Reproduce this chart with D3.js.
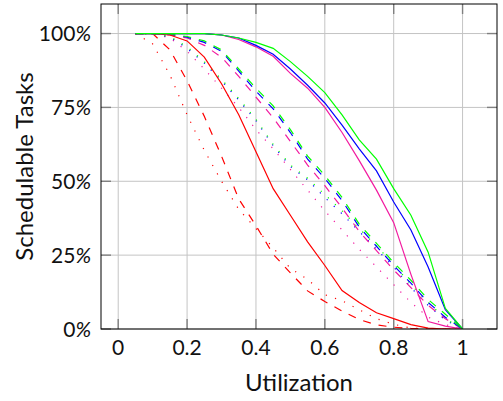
<!DOCTYPE html>
<html>
<head>
<meta charset="utf-8">
<script src="https://cdn.jsdelivr.net/npm/d3@7"></script>
<style>
  body { margin: 0; background: #fff; }
  text { font-family: Lato, "Noto Sans", sans-serif; fill: #111; }
</style>
</head>
<body>
<div id="chart"></div>
<script>
// utilization steps (x)
const utilization = [0.05, 0.1, 0.15, 0.2, 0.25, 0.3, 0.35, 0.4, 0.45, 0.5,
  0.55, 0.6, 0.65, 0.7, 0.75, 0.8, 0.85, 0.9, 0.95, 1.0];

// schedulable tasks in %
const greenSolid = [100, 100, 100, 100, 100, 99.5, 98.5, 97, 95, 90.5, 85.5, 80, 72.5, 64, 57.5, 47.5, 38.5, 26, 7, 0];
const blueSolid = [100, 100, 100, 100, 100, 99.5, 98.5, 96, 93, 88, 82.5, 76.5, 69, 61, 53.5, 43, 33.5, 21, 6.5, 0];
const magentaSolid = [100, 100, 100, 100, 100, 99.5, 98, 95.5, 92.3, 86.5, 81.5, 75, 66.5, 57, 47, 36, 18.5, 2.5, 1, 0];
const redSolid = [100, 100, 99.5, 97.5, 92, 83, 72.5, 60, 47.5, 38.5, 29.5, 21.5, 13, 9, 5.5, 3.5, 1.5, 0.3, 0, 0];

const greenDashed = [100, 100, 99.8, 99, 97.5, 94.5, 88, 81.5, 75.5, 67.5, 58.5, 52, 44.5, 35.5, 29, 22.5, 16.5, 10, 5, 0];
const blueDashed = [100, 100, 99.7, 98.8, 97, 94, 87.3, 80.5, 74.5, 66.5, 57.5, 51, 43.5, 34.5, 28, 21.5, 15.5, 9, 4, 0];
const magentaDashed = [100, 100, 99.5, 98.5, 96, 92, 85.5, 78.5, 71.5, 63.5, 55.5, 48.5, 41, 33, 26.5, 20, 14, 8, 3.5, 0];
const redDashed = [100, 100, 94.5, 84, 72, 58.5, 44, 35, 25.3, 19, 12.9, 9.3, 6.1, 3.2, 1.4, 0.6, 0.2, 0, 0, 0];

const greenDotted = [100, 100, 99, 95.5, 90.5, 84.5, 78, 71, 62.5, 55.5, 51, 45.5, 40, 34, 28, 22, 15, 9, 3.5, 0];
const blueDotted = [100, 100, 98.8, 95, 90, 84, 77.5, 70.5, 62, 55, 50.5, 44.5, 39, 33, 27, 21, 14, 8, 3, 0];
const magentaDotted = [100, 100, 98.5, 94, 88, 81.5, 75, 67.5, 61, 54, 47, 40, 33.5, 27, 21, 15, 9, 4, 1.5, 0];
const redDotted = [100, 96.5, 86, 72.5, 60.5, 50, 40.5, 34, 27.5, 20.5, 16.8, 11.6, 9.6, 6.5, 3.5, 1.6, 0.3, 0, 0, 0];

const xTicks = [0, 0.2, 0.4, 0.6, 0.8, 1];
const yTicks = [0, 25, 50, 75, 100];

const series = [
  { values: redDotted, color: "#ff0000", dash: "1.2,8.5" },
  { values: magentaDotted, color: "#f21aa0", dash: "1.2,8.5" },
  { values: blueDotted, color: "#0000ff", dash: "1.2,8.5" },
  { values: greenDotted, color: "#00ff00", dash: "1.2,8.5" },
  { values: redDashed, color: "#ff0000", dash: "8,8" },
  { values: magentaDashed, color: "#f21aa0", dash: "8,8" },
  { values: blueDashed, color: "#0000ff", dash: "8,8" },
  { values: greenDashed, color: "#00ff00", dash: "8,8" },
  { values: redSolid, color: "#ff0000", dash: null },
  { values: magentaSolid, color: "#f21aa0", dash: null },
  { values: blueSolid, color: "#0000ff", dash: null },
  { values: greenSolid, color: "#00ff00", dash: null }
];

const width = 503;
const height = 401;
const margin = { top: 4, right: 6, bottom: 72, left: 101 };

const svg = d3.select("#chart")
  .append("svg")
  .attr("width", width)
  .attr("height", height);

const x = d3.scaleLinear()
  .domain([-0.05, 1.1])
  .range([margin.left, width - margin.right]);

const y = d3.scaleLinear()
  .domain([0, 110])
  .range([height - margin.bottom, margin.top]);

const x0 = margin.left, x1 = width - margin.right;
const y0 = height - margin.bottom, y1 = margin.top;

// grid
svg.append("g")
  .selectAll("line")
  .data(xTicks)
  .join("line")
  .attr("x1", d => x(d)).attr("x2", d => x(d))
  .attr("y1", y0).attr("y2", y1)
  .attr("stroke", "#c4c4c4")
  .attr("stroke-width", 1);

svg.append("g")
  .selectAll("line")
  .data(yTicks)
  .join("line")
  .attr("x1", x0).attr("x2", x1)
  .attr("y1", d => y(d)).attr("y2", d => y(d))
  .attr("stroke", "#c4c4c4")
  .attr("stroke-width", 1);

// ticks on all four sides, pointing inward
const tickLen = 10;
const ticks = svg.append("g").attr("stroke", "#808080").attr("stroke-width", 1.4);
xTicks.forEach(t => {
  ticks.append("line").attr("x1", x(t)).attr("x2", x(t)).attr("y1", y0).attr("y2", y0 - tickLen);
  ticks.append("line").attr("x1", x(t)).attr("x2", x(t)).attr("y1", y1).attr("y2", y1 + tickLen);
});
yTicks.forEach(t => {
  ticks.append("line").attr("x1", x0).attr("x2", x0 + tickLen).attr("y1", y(t)).attr("y2", y(t));
  ticks.append("line").attr("x1", x1).attr("x2", x1 - tickLen).attr("y1", y(t)).attr("y2", y(t));
});

// lines
svg.append("clipPath").attr("id", "clip")
  .append("rect")
  .attr("x", x0).attr("y", y1)
  .attr("width", x1 - x0).attr("height", y0 - y1);

const line = d3.line()
  .x((d, i) => x(utilization[i]))
  .y(d => y(d));

svg.append("g")
  .attr("clip-path", "url(#clip)")
  .selectAll("path")
  .data(series)
  .join("path")
  .attr("fill", "none")
  .attr("stroke", d => d.color)
  .attr("stroke-width", 1.2)
  .attr("stroke-dasharray", d => d.dash)
  .attr("d", d => line(d.values));

// frame
svg.append("rect")
  .attr("x", x0).attr("y", y1)
  .attr("width", x1 - x0).attr("height", y0 - y1)
  .attr("fill", "none")
  .attr("stroke", "#000")
  .attr("stroke-width", 1);

// tick labels
svg.append("g")
  .selectAll("text")
  .data(xTicks)
  .join("text")
  .attr("x", d => x(d))
  .attr("y", 355)
  .attr("text-anchor", "middle")
  .style("font-size", "21px")
  .text(d => d3.format("")(d));

const yLabels = svg.append("g")
  .selectAll("text")
  .data(yTicks)
  .join("text")
  .attr("x", 91)
  .attr("y", d => y(d) + 7.5)
  .attr("text-anchor", "end")
  .style("font-size", "21px");
yLabels.append("tspan").text(d => d);
yLabels.append("tspan").style("font-style", "italic").text("%");

// axis titles
svg.append("text")
  .attr("x", (x0 + x1) / 2)
  .attr("y", 391)
  .attr("text-anchor", "middle")
  .style("font-size", "24px")
  .text("Utilization");

svg.append("text")
  .attr("transform", `translate(33,${(y0 + y1) / 2}) rotate(-90)`)
  .attr("text-anchor", "middle")
  .style("font-size", "24px")
  .text("Schedulable Tasks");
</script>
</body>
</html>
